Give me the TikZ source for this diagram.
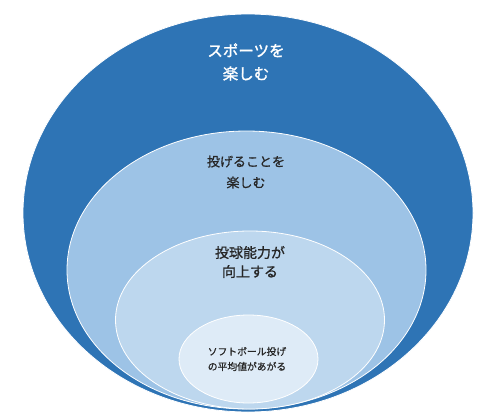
\documentclass[tikz,border=0pt]{standalone}
\usepackage{fontspec}
\newfontfamily\jpfont[FakeBold=0.8]{Noto Sans CJK JP}
\newfontfamily\jpboldfont[FakeBold=1.6]{Noto Sans CJK JP}
\definecolor{ringA}{HTML}{2E74B5}
\definecolor{ringB}{HTML}{9DC3E6}
\definecolor{ringC}{HTML}{BDD7EE}
\definecolor{ringD}{HTML}{DEEBF7}
\tikzset{
  ring/.style={draw=white, line width=0.8pt},
  label/.style={align=center, inner sep=0pt, text=black!85}
}
\begin{document}
\begin{tikzpicture}[x=1pt, y=-1pt]
  \useasboundingbox (0,0) rectangle (500,417);
  % nested rings, outer to inner
  \filldraw[ring, fill=ringA] (248,213) ellipse (225 and 199);
  \filldraw[ring, fill=ringB] (246.5,270) ellipse (179.5 and 139);
  \filldraw[ring, fill=ringC] (250,320) ellipse (134.5 and 89);
  \filldraw[ring, fill=ringD] (248.5,359) ellipse (69.5 and 44);
  % labels
  \node[label, text=white, font=\jpboldfont\fontsize{15.5}{23}\selectfont] (sport) at (246,62) {スポーツを\\楽しむ};
  \node[label, font=\jpfont\fontsize{13}{21}\selectfont] (throwfun) at (246,172) {投げることを\\楽しむ};
  \node[label, font=\jpfont\fontsize{14}{19}\selectfont] (ability) at (250,262) {投球能力が\\向上する};
  \node[label, font=\jpfont\fontsize{9.8}{15}\selectfont] (average) at (247,359) {ソフトボール投げ\\の平均値があがる};
\end{tikzpicture}
\end{document}
